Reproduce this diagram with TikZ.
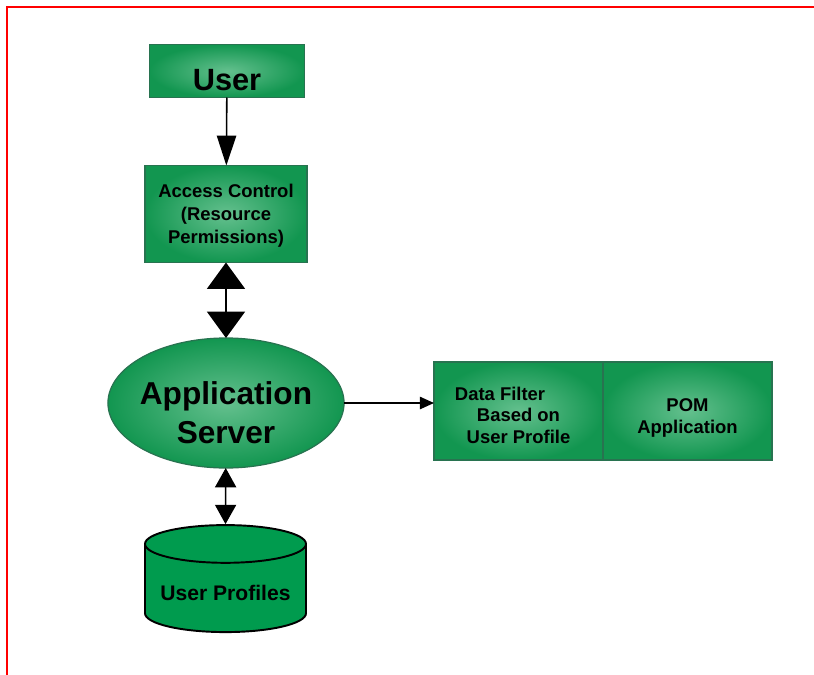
\documentclass[tikz,border=0pt]{standalone}
\usepackage{fontspec}
\setmainfont{Liberation Sans}
\usetikzlibrary{arrows.meta,shapes.geometric,positioning}

\definecolor{boxout}{RGB}{18,150,80}
\definecolor{boxin}{RGB}{100,192,142}
\definecolor{boxline}{RGB}{40,115,80}
\definecolor{dbfill}{RGB}{0,155,78}

% strut that pushes the text block of a node downwards
\newcommand{\drop}[1]{\rule{0pt}{#1}}

\tikzset{
  greenbox/.style={draw=boxline, line width=0.7pt, inner color=boxin, outer color=boxout,
    align=center, font=\bfseries, inner sep=0pt, outer sep=0pt},
  conn/.style={line width=0.9pt},
}

\begin{document}
\begin{tikzpicture}
\clip (0,0) rectangle (16.28,-13.48);
\draw[red, line width=1.6pt] (0.14,-0.14) rectangle (16.7,-13.9);

\node[greenbox, minimum width=3.1cm, minimum height=1.06cm, font=\bfseries\fontsize{17.5}{21}\selectfont] (user) at (4.54,-1.42) {\drop{22.6pt}User};
\node[greenbox, minimum width=3.24cm, minimum height=1.94cm, font=\bfseries\fontsize{10.5}{13}\selectfont] (access) at (4.52,-4.28) {\drop{9.6pt}Access Control\\(Resource\\Permissions)};
\node[greenbox, ellipse, inner xsep=-1.5pt, minimum width=4.64cm, minimum height=2.6cm, font=\bfseries\fontsize{18}{22}\selectfont] (server) at (4.52,-8.06) {\drop{24.4pt}Application\\Server};
\node[greenbox, minimum width=3.38cm, minimum height=1.96cm, font=\bfseries\fontsize{10.5}{12.4}\selectfont] (filter) at (10.37,-8.22) {\drop{12.4pt}Data Filter\hspace*{2em}\\Based on\\User Profile};
\node[greenbox, minimum width=3.38cm, minimum height=1.96cm, font=\bfseries\fontsize{10.5}{12.4}\selectfont, right=0pt of filter] (pom) {\drop{15.6pt}POM\\Application};
\node[cylinder, shape border rotate=90, aspect=0.29, draw=black, line width=1.1pt, fill=dbfill,
  minimum width=3.22cm, minimum height=2.14cm, inner sep=0pt, font=\bfseries\fontsize{12}{14}\selectfont] (profiles) at (4.51,-11.77) {\raisebox{-2.2ex}{User Profiles}};

\draw[conn, -{Triangle[length=17pt,width=11pt]}] (user) -- (access);
\draw[conn, {Triangle[length=15pt,width=21.6pt]}-{Triangle[length=15pt,width=21.6pt]}] (access) -- (server);
\draw[conn, -{Triangle[length=8pt,width=7pt]}] (server.east) -- (server.east -| filter.west);
\draw[conn, {Triangle[length=11pt,width=12pt]}-{Triangle[length=11pt,width=12pt]}] (server) -- (profiles.top);
\end{tikzpicture}
\end{document}
